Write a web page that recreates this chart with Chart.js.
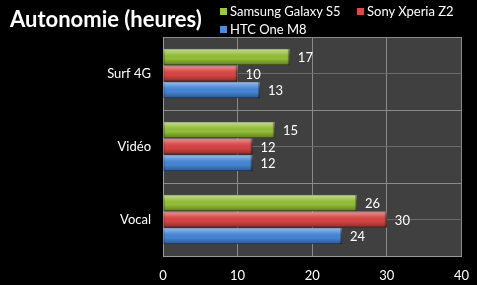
<!DOCTYPE html>
<html>
<head>
<meta charset="utf-8">
<script src="https://cdn.jsdelivr.net/npm/chart.js@4.4.1/dist/chart.umd.min.js"></script>
<style>
  html, body { margin: 0; padding: 0; background: #000; }
  #wrap { position: relative; width: 477px; height: 285px; }
  #title { position: absolute; left: 10px; top: 5px; color: #fff; font: bold 22px Lato, sans-serif; }
  .leg { position: absolute; color: #fff; font: 13px Lato, sans-serif; line-height: 14px; }
  .leg i { display: inline-block; width: 7px; height: 7px; margin-right: 3px; vertical-align: 1px; }
</style>
</head>
<body>
<div id="wrap">
  <canvas id="chart" width="477" height="285"></canvas>
  <div id="title">Autonomie (heures)</div>
  <div class="leg" style="left:220px;top:4px"><i style="background:#9cc63e"></i>Samsung Galaxy S5</div>
  <div class="leg" style="left:357px;top:4px"><i style="background:#e04848"></i>Sony Xperia Z2</div>
  <div class="leg" style="left:220px;top:22px"><i style="background:#4a8ce0"></i>HTC One M8</div>
</div>
<script>
const categories = ["Surf 4G", "Vidéo", "Vocal"];
const seriesNames = ["Samsung Galaxy S5", "Sony Xperia Z2", "HTC One M8"];
const samsung = [17, 15, 26];
const sony = [10, 12, 30];
const htc = [13, 12, 24];
const xTicks = [0, 10, 20, 30, 40];

const colors = ['#94be38', '#d84444', '#4585d6'];
const edges = ['#5f7d22', '#8e2a28', '#2a5a98'];

// plot background
const plotBg = {
    id: 'plotBg',
    beforeDraw(chart) {
        const { ctx, chartArea: a } = chart;
        ctx.save();
        ctx.fillStyle = '#404040';
        ctx.fillRect(a.left, a.top, a.right - a.left, a.bottom - a.top);
        ctx.restore();
    }
};

// bevel shading on each bar + value labels
const barExtras = {
    id: 'barExtras',
    afterDatasetsDraw(chart) {
        const ctx = chart.ctx;
        chart.data.datasets.forEach((ds, i) => {
            const meta = chart.getDatasetMeta(i);
            meta.data.forEach((bar, j) => {
                const { x, y, base, height } = bar.getProps(['x', 'y', 'base', 'height'], true);
                const top = y - height / 2;
                const g = ctx.createLinearGradient(0, top, 0, top + height);
                g.addColorStop(0, 'rgba(255,255,255,0.45)');
                g.addColorStop(0.3, 'rgba(255,255,255,0.12)');
                g.addColorStop(0.6, 'rgba(0,0,0,0)');
                g.addColorStop(1, 'rgba(0,0,0,0.35)');
                ctx.save();
                ctx.fillStyle = g;
                ctx.fillRect(base, top, x - base, height);
                ctx.fillStyle = 'rgba(0,0,0,0.25)';
                ctx.fillRect(x - 2, top, 2, height);
                ctx.restore();

                ctx.save();
                ctx.fillStyle = '#fff';
                ctx.font = '13px Lato, sans-serif';
                ctx.textBaseline = 'middle';
                ctx.fillText(ds.data[j], x + 8, y + 1);
                ctx.restore();
            });
        });
    }
};

new Chart(document.getElementById('chart'), {
    type: 'bar',
    data: {
        labels: categories,
        datasets: [samsung, sony, htc].map((d, i) => ({
            label: seriesNames[i],
            data: d,
            backgroundColor: colors[i],
            borderColor: edges[i],
            borderWidth: 1,
            borderSkipped: false,
            barPercentage: 0.97,
            categoryPercentage: 0.68,
            yAxisID: 'y'
        }))
    },
    options: {
        indexAxis: 'y',
        responsive: false,
        animation: false,
        layout: { padding: { top: 37, right: 15, left: 0, bottom: 0 } },
        plugins: { legend: { display: false }, tooltip: { enabled: false } },
        scales: {
            x: {
                min: 0, max: 40,
                afterBuildTicks: s => { s.ticks = xTicks.map(v => ({ value: v })); },
                afterFit: s => { s.height = 29; },
                grid: { color: '#8a8a8a', lineWidth: 1, drawTicks: false },
                border: { color: '#9a9a9a' },
                ticks: { color: '#fff', font: { family: 'Lato', size: 13, lineHeight: 1.8 }, padding: 8 }
            },
            y: {
                type: 'category',
                afterFit: s => { s.width = 163; },
                grid: { offset: true, color: '#8a8a8a', drawTicks: false },
                border: { color: '#9a9a9a' },
                ticks: { color: '#fff', font: { family: 'Lato', size: 13 }, padding: 12 }
            },
            y2: {
                type: 'category',
                labels: categories,
                position: 'left',
                afterFit: s => { s.width = 0; },
                grid: { offset: false, color: '#6a6a6a', drawTicks: false },
                border: { display: false },
                ticks: { display: false }
            }
        }
    },
    plugins: [plotBg, barExtras]
});
</script>
</body>
</html>
